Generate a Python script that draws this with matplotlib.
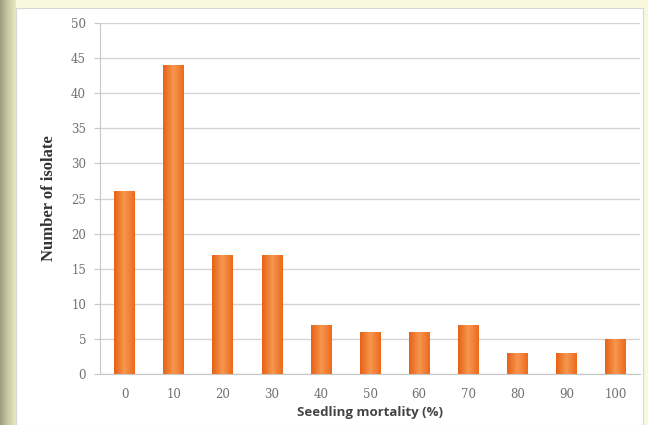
import numpy as np
import matplotlib
matplotlib.use("Agg")
import matplotlib.pyplot as plt
from matplotlib.colors import LinearSegmentedColormap

# Isolate counts per seedling mortality class
mortality = ["0", "10", "20", "30", "40", "50", "60", "70", "80", "90", "100"]
isolates = [26, 44, 17, 17, 7, 6, 6, 7, 3, 3, 5]
yticks = [0, 5, 10, 15, 20, 25, 30, 35, 40, 45, 50]

fig = plt.figure(figsize=(6.48, 4.25), dpi=100)
fig.patch.set_facecolor("#f8f8dc")

# slide-style backdrop: dark strip on the left, white card behind the chart
strip = np.linspace(0, 1, 64).reshape(1, -1)
strip_cmap = LinearSegmentedColormap.from_list("strip", ["#9c9c80", "#c9c9a4", "#e8e8c4"])
bg = fig.add_axes([0, 0, 16 / 648, 1], zorder=-2)
bg.imshow(strip, aspect="auto", cmap=strip_cmap, extent=[0, 1, 0, 1])
bg.axis("off")

card = fig.add_axes([16 / 648, 0, 627 / 648, 417 / 425], zorder=-1)
card.set_facecolor("white")
card.set_xticks([])
card.set_yticks([])
for s in card.spines.values():
    s.set_color("#d8d8d0")
    s.set_linewidth(0.8)

ax = fig.add_axes([100 / 648, 51 / 425, 540 / 648, 351 / 425], zorder=1)
ax.set_facecolor("none")
x = np.arange(len(mortality))
bars = ax.bar(x, isolates, width=0.42, color="#f07526", zorder=3)

# horizontal shading across each bar
bar_cmap = LinearSegmentedColormap.from_list("bar", ["#e66216", "#f7974f", "#ec6a1c"])
grad = np.linspace(0, 1, 64).reshape(1, -1)
for b in bars:
    x0, w, h = b.get_x(), b.get_width(), b.get_height()
    im = ax.imshow(grad, aspect="auto", cmap=bar_cmap, extent=[x0, x0 + w, 0, h], zorder=4)
    im.set_clip_path(b)

ax.set_xlim(-0.5, len(mortality) - 0.5)
ax.set_ylim(0, 50)
ax.set_yticks(yticks)
ax.set_xticks(x)
ax.set_xticklabels(mortality)
ax.yaxis.grid(True, color="#d4d4d4", linewidth=1.0, zorder=0)
ax.set_axisbelow(True)

for side in ["top", "right"]:
    ax.spines[side].set_visible(False)
ax.spines["left"].set_color("#c8c8c8")
ax.spines["bottom"].set_color("#c8c8c8")
ax.tick_params(axis="y", length=4, color="#c8c8c8", labelcolor="#707070", labelsize=8.5, pad=6)
ax.tick_params(axis="x", length=0, labelcolor="#707070", labelsize=8.5, pad=10)
for lab in ax.get_xticklabels() + ax.get_yticklabels():
    lab.set_family("DejaVu Serif")

ax.set_xlabel("Seedling mortality (%)", fontsize=9.5, fontweight="bold",
              family="Open Sans", color="#444444", labelpad=4)
ax.set_ylabel("Number of isolate", fontsize=12, fontweight="bold",
              family="Liberation Serif", color="#333333", labelpad=10)

fig.savefig("out.png", dpi=100, facecolor=fig.get_facecolor())
